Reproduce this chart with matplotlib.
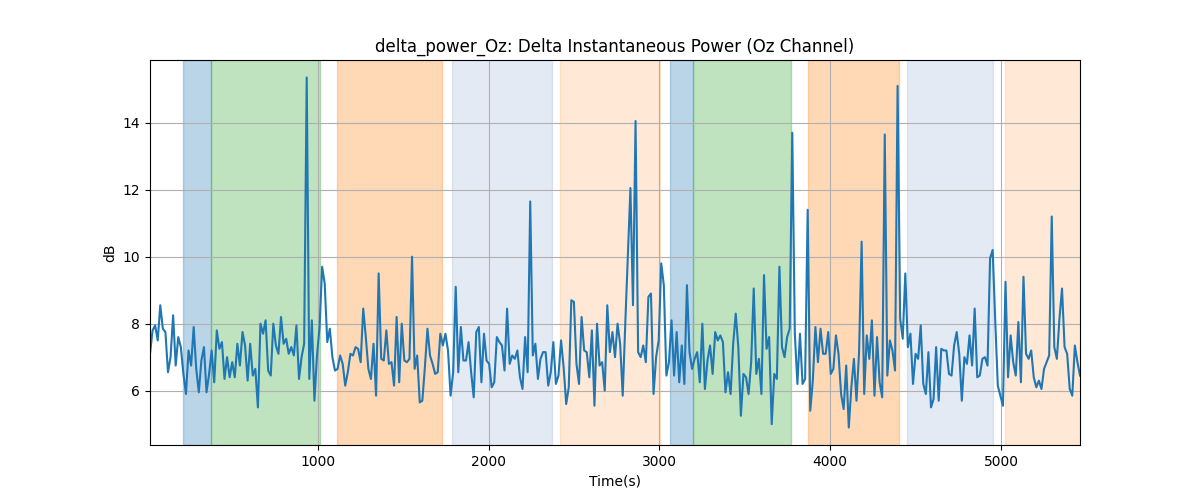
import matplotlib
matplotlib.use('Agg')
import matplotlib.pyplot as plt
import numpy as np

# delta power (dB), roughly 15 s apart
power_db = [
    7.1, 7.8, 7.95, 7.5, 8.55, 7.85, 7.75, 6.55, 7.0, 8.25, 6.75, 7.6, 7.3, 6.5, 5.9, 7.2,
    6.75, 7.9, 6.65, 5.95, 6.9, 7.3, 5.95, 6.5, 7.2, 6.25, 7.8, 7.25, 7.45, 6.35, 7.0, 6.4,
    6.85, 6.4, 7.4, 6.75, 7.75, 7.35, 6.3, 7.4, 6.45, 6.65, 5.5, 8.0, 7.7, 8.1,
    6.6, 6.45, 8.0, 7.35, 7.1, 8.2, 7.4, 7.55, 7.1, 7.3, 7.05, 7.95, 6.35, 7.0, 7.4, 15.35,
    6.35, 8.1, 5.7, 7.05, 7.9, 9.7, 9.2, 7.45, 7.85, 7.0, 6.6, 6.65, 7.05, 6.8, 6.15, 6.55,
    7.1, 7.05, 7.3, 7.25, 6.85, 8.45, 7.6, 6.65, 6.35, 7.4, 5.85, 9.5, 6.95,
    6.9, 7.8, 6.8, 6.85, 6.15, 8.2, 6.25, 8.0, 6.9, 6.85, 6.95, 10.0, 6.65, 7.05, 5.65, 5.7,
    6.7, 7.85, 7.05, 6.8, 6.5, 6.55, 7.7, 7.35, 7.7, 7.2, 5.85, 6.55, 9.1, 6.55, 7.9, 6.9,
    6.9, 7.45, 6.55, 5.8, 7.75, 7.9, 6.25, 7.7, 6.9, 6.8, 6.1, 6.25, 7.6, 7.45,
    7.35, 6.6, 8.45, 6.8, 7.05, 6.95, 7.2, 6.4, 6.05, 7.6, 6.55, 11.65, 7.05, 7.4, 6.35, 6.95,
    7.15, 7.15, 6.15, 6.55, 7.45, 6.2, 6.45, 7.5, 6.7, 5.6, 6.1, 8.7, 8.65, 6.8, 6.2, 8.2,
    7.2, 7.15, 6.4, 7.8, 5.55, 8.0, 6.75, 6.85, 6.0, 8.55, 7.15, 7.75, 7.0,
    8.0, 7.4, 5.85, 8.0, 10.0, 12.05, 8.55, 14.05, 7.15, 7.0, 7.35, 6.85, 8.8, 8.9, 5.9, 7.0,
    7.5, 9.8, 9.15, 6.45, 6.85, 8.1, 6.45, 7.75, 6.25, 7.35, 6.2, 9.15, 7.15, 6.65, 6.95, 7.15,
    6.25, 8.0, 6.05, 6.9, 7.35, 6.5, 7.75, 7.5, 7.65, 7.45, 5.95, 6.55, 5.9,
    7.4, 8.3, 7.3, 5.25, 6.5, 6.4, 5.9, 6.85, 9.05, 6.5, 6.95, 5.9, 9.45, 7.25, 7.6, 5.0,
    6.5, 6.35, 9.7, 7.3, 7.0, 7.6, 7.85, 13.7, 7.7, 6.2, 7.7, 6.2, 6.35, 11.4, 5.4, 6.3,
    7.9, 6.85, 7.85, 7.1, 7.1, 7.75, 6.5, 6.65, 7.65, 7.1, 5.9, 5.45, 6.75,
    4.9, 6.1, 6.95, 5.7, 7.15, 10.45, 5.9, 7.65, 6.95, 8.1, 5.85, 7.6, 6.25, 5.8, 13.65, 6.45,
    7.5, 7.2, 6.6, 15.1, 8.15, 7.55, 9.5, 7.3, 7.7, 6.2, 7.1, 6.95, 7.95, 6.2, 5.9, 7.15,
    5.5, 5.75, 7.3, 5.7, 7.25, 7.2, 7.2, 6.5, 6.45, 7.35, 7.75, 7.1, 5.7,
    7.0, 6.8, 7.65, 6.75, 8.45, 6.4, 6.45, 6.95, 7.0, 6.75, 9.95, 10.2, 8.1, 6.15, 5.85, 5.55,
    9.25, 6.4, 7.65, 6.85, 6.45, 8.05, 6.25, 9.4, 7.1, 6.95, 7.2, 6.4, 6.1, 6.3, 6.05, 6.65,
    6.85, 7.05, 11.2, 7.3, 6.95, 8.15, 9.05, 7.3, 7.1, 6.05, 5.85, 7.35, 6.85, 6.45,
]
t_start, t_end = 16, 5463
time_s = np.linspace(t_start, t_end, len(power_db))

# shaded task periods: (start, end, color, alpha)
span_starts = [209, 373, 1111, 1785, 2418, 3063, 3198, 3872, 4452, 5021]
span_ends = [373, 1011, 1727, 2371, 3004, 3198, 3772, 4400, 4956, 5470]
span_colors = ['tab:blue', 'tab:green', 'tab:orange', '#4c72b0', 'tab:orange',
               'tab:blue', 'tab:green', 'tab:orange', '#4c72b0', 'tab:orange']
span_alphas = [0.3, 0.3, 0.3, 0.15, 0.17, 0.3, 0.3, 0.3, 0.15, 0.17]

fig, ax = plt.subplots(figsize=(12, 5), dpi=100)

for s, e, c, a in zip(span_starts, span_ends, span_colors, span_alphas):
    ax.axvspan(s, e, color=c, alpha=a)

ax.plot(time_s, power_db, color='tab:blue')
ax.set_xlim(t_start, t_end)
ax.grid(True)
ax.set_title('delta_power_Oz: Delta Instantaneous Power (Oz Channel)')
ax.set_xlabel('Time(s)')
ax.set_ylabel('dB')

fig.savefig('out.png')
